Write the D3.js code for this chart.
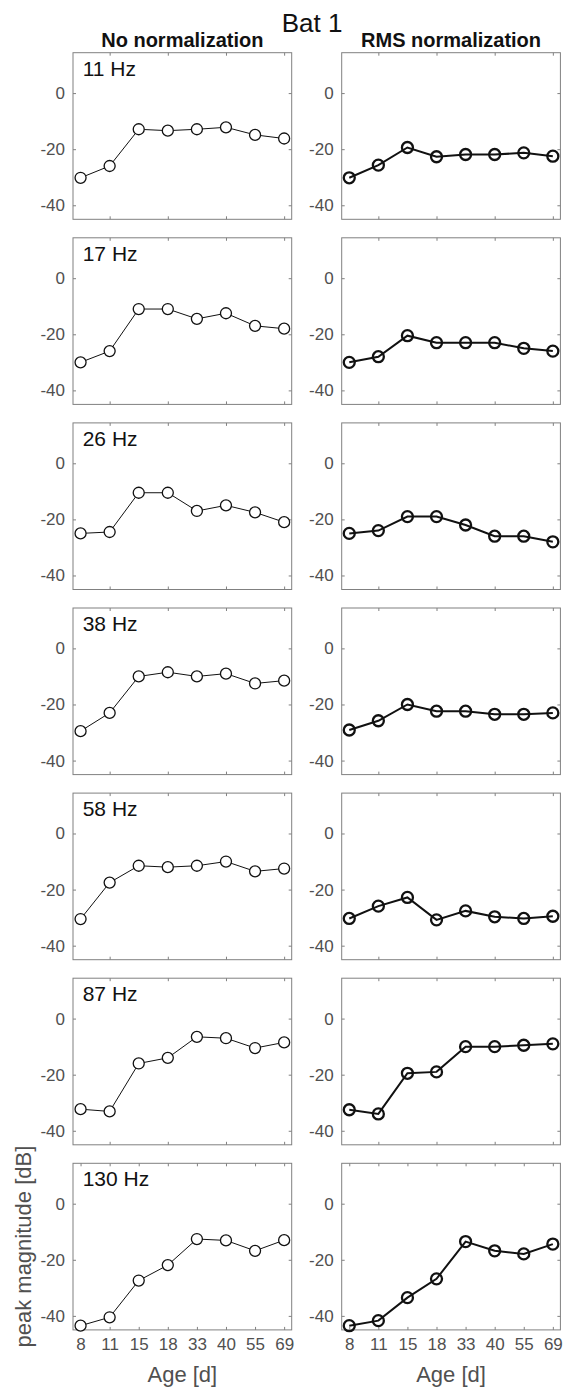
<!DOCTYPE html>
<html>
<head>
<meta charset="utf-8">
<script src="https://cdn.jsdelivr.net/npm/d3@7"></script>
<style>
  html, body { margin: 0; padding: 0; background: #fff; }
  svg { display: block; font-family: "Liberation Sans", Arial, Helvetica, sans-serif; }
</style>
</head>
<body>
<svg id="chart" width="568" height="1389"></svg>
<script>
// ---- data ----
const ages = ["8", "11", "15", "18", "33", "40", "55", "69"];
const bands = ["11 Hz", "17 Hz", "26 Hz", "38 Hz", "58 Hz", "87 Hz", "130 Hz"];
const yTicks = [-40, -20, 0];
const xTicksInner = ["11", "18", "40", "69"];
const columnTitles = ["No normalization", "RMS normalization"];

const noNorm = [
  [-30.2, -26.0, -12.9, -13.4, -12.9, -12.2, -14.9, -16.2],
  [-30.0, -26.0, -11.0, -11.0, -14.5, -12.5, -17.0, -18.0],
  [-25.0, -24.5, -10.5, -10.5, -17.0, -15.0, -17.5, -21.0],
  [-29.5, -23.0, -10.0, -8.5, -10.0, -9.0, -12.5, -11.5],
  [-30.5, -17.5, -11.5, -12.0, -11.5, -10.0, -13.5, -12.5],
  [-32.3, -33.1, -16.0, -14.0, -6.5, -7.0, -10.5, -8.5],
  [-43.5, -40.5, -27.4, -21.9, -12.6, -13.1, -16.8, -13.0]
];
const rmsNorm = [
  [-30.2, -25.7, -19.4, -22.7, -21.9, -21.9, -21.3, -22.5],
  [-30.0, -28.0, -20.5, -23.0, -23.0, -23.0, -25.0, -26.0],
  [-25.0, -24.0, -19.0, -19.0, -22.0, -26.0, -26.0, -28.0],
  [-29.1, -25.8, -20.0, -22.4, -22.4, -23.5, -23.5, -23.0],
  [-30.3, -25.9, -22.8, -30.8, -27.6, -29.7, -30.3, -29.5],
  [-32.5, -34.0, -19.5, -19.0, -10.0, -10.0, -9.5, -9.0],
  [-43.5, -41.7, -33.5, -26.8, -13.5, -16.8, -17.9, -14.4]
];

// ---- layout ----
const svg = d3.select("#chart");
const colX = [73, 341.7];
const colW = 218.7;
const rowTop0 = 52.7, rowPitch = 185.1, rowH = 166.6;
const tickLen = 3;
const axisColor = "#808080";
const labelColor = "#505050";

const x = d3.scalePoint().domain(ages).range([0, colW]).padding(0.26);
const y = d3.scaleLinear().domain([-45, 14.4]).range([rowH, 0]);

svg.append("text").attr("x", 312).attr("y", 32).attr("text-anchor", "middle")
  .attr("font-size", 26).attr("fill", "#111").text("Bat 1");

columnTitles.forEach((t, c) => {
  svg.append("text").attr("x", colX[c] + colW / 2).attr("y", 47).attr("text-anchor", "middle")
    .attr("font-size", 20).attr("font-weight", "bold").attr("fill", "#111").text(t);
});

const datasets = [noNorm, rmsNorm];

bands.forEach((band, r) => {
  const last = r === bands.length - 1;
  datasets.forEach((ds, c) => {
    const g = svg.append("g").attr("transform", `translate(${colX[c]},${rowTop0 + r * rowPitch})`);
    const xt = last ? ages : xTicksInner;

    const yAxisL = d3.axisLeft(y).tickValues(yTicks).tickFormat(d => String(d))
      .tickSizeInner(-tickLen).tickSizeOuter(0).tickPadding(8);
    const gyl = g.append("g").call(yAxisL);
    gyl.select(".domain").remove();
    gyl.selectAll("line").attr("stroke", axisColor);
    gyl.selectAll("text").attr("font-size", 17).attr("fill", labelColor)
      .attr("font-family", "Liberation Sans, Arial, sans-serif");

    const yAxisR = d3.axisRight(y).tickValues(yTicks).tickSizeInner(-tickLen).tickSizeOuter(0).tickFormat("");
    const gyr = g.append("g").attr("transform", `translate(${colW},0)`).call(yAxisR);
    gyr.select(".domain").remove();
    gyr.selectAll("line").attr("stroke", axisColor);

    const xAxisB = d3.axisBottom(x).tickValues(xt).tickSizeInner(-tickLen).tickSizeOuter(0).tickPadding(8);
    const gxb = g.append("g").attr("transform", `translate(0,${rowH})`).call(xAxisB);
    gxb.select(".domain").remove();
    gxb.selectAll("line").attr("stroke", axisColor);
    if (last) {
      gxb.selectAll("text").attr("font-size", 17).attr("fill", labelColor)
        .attr("font-family", "Liberation Sans, Arial, sans-serif");
    } else {
      gxb.selectAll("text").remove();
    }

    const xAxisT = d3.axisTop(x).tickValues(xt).tickSizeInner(-tickLen).tickSizeOuter(0).tickFormat("");
    const gxt = g.append("g").call(xAxisT);
    gxt.select(".domain").remove();
    gxt.selectAll("line").attr("stroke", axisColor);

    g.append("rect").attr("x", 0).attr("y", 0).attr("width", colW).attr("height", rowH)
      .attr("fill", "none").attr("stroke", axisColor).attr("stroke-width", 1);

    const vals = ds[r];
    const lw = c === 0 ? 1 : 2;
    const line = d3.line().x((d, i) => x(ages[i])).y(d => y(d));
    g.append("path").attr("d", line(vals)).attr("fill", "none")
      .attr("stroke", "#111").attr("stroke-width", lw);
    g.selectAll("circle.m").data(vals).enter().append("circle")
      .attr("cx", (d, i) => x(ages[i])).attr("cy", d => y(d)).attr("r", 5.5)
      .attr("fill", c === 0 ? "#fff" : "none").attr("stroke", "#111").attr("stroke-width", c === 0 ? 1.3 : 2.3);

    if (c === 0) {
      g.append("text").attr("x", 9.7).attr("y", 23).attr("font-size", 21).attr("fill", "#111").text(band);
    }
  });
});

colX.forEach(cx => {
  svg.append("text").attr("x", cx + colW / 2).attr("y", 1382).attr("text-anchor", "middle")
    .attr("font-size", 22).attr("fill", labelColor).text("Age [d]");
});
const rowCenter7 = rowTop0 + 6 * rowPitch + rowH / 2;
svg.append("text").attr("transform", `translate(31,${rowCenter7}) rotate(-90)`)
  .attr("text-anchor", "middle").attr("font-size", 22).attr("fill", labelColor)
  .text("peak magnitude [dB]");
</script>
</body>
</html>
